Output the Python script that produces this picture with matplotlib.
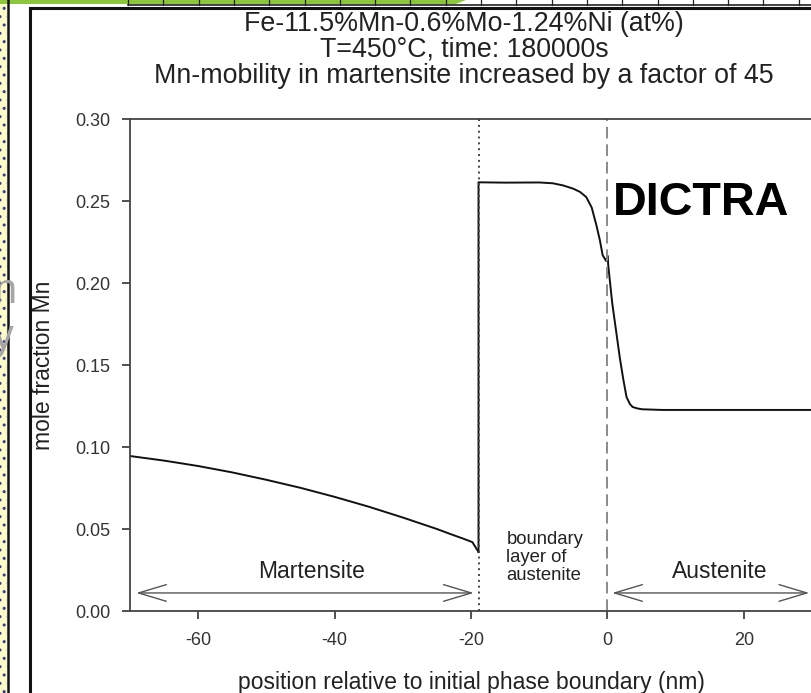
import numpy as np
import matplotlib.pyplot as plt
from matplotlib.patches import Rectangle, Polygon, FancyArrowPatch, ArrowStyle
from matplotlib.lines import Line2D

plt.rcParams['font.family'] = ['Liberation Sans', 'DejaVu Sans']
plt.rcParams['axes.unicode_minus'] = False

# Mn profile, martensite side (nm, mole fraction)
mart_x = [-70, -65, -60, -55, -50, -45, -40, -35, -30, -25, -23, -21, -19.8, -18.9]
mart_y = [0.0945, 0.0917, 0.0884, 0.0845, 0.0800, 0.0751, 0.0696, 0.0636, 0.0570,
          0.0500, 0.0469, 0.0439, 0.0420, 0.0360]

# Mn profile, austenite side
aus_x = [-18.9, -18.9, -15, -10, -8, -6.5, -5, -4, -3.1, -2.3, -1.6, -1.1, -0.7, -0.2,
         0.05, 0.12, 0.7, 1.3, 1.8, 2.3, 2.8, 3.3, 3.7, 4.4, 5.1, 8, 30]
aus_y = [0.0360, 0.2614, 0.2612, 0.2613, 0.2608, 0.2595, 0.2575, 0.2555, 0.2524, 0.2460,
         0.2350, 0.2260, 0.2170, 0.2135, 0.2165, 0.2110, 0.1880, 0.1700, 0.1550, 0.1420,
         0.1305, 0.1262, 0.1244, 0.1235, 0.1230, 0.1226, 0.1226]

interface_x = -18.9
boundary_x = 0

xticks = [-60, -40, -20, 0, 20]
yticks = [0.00, 0.05, 0.10, 0.15, 0.20, 0.25, 0.30]

title_lines = ["Fe-11.5%Mn-0.6%Mo-1.24%Ni (at%)",
               "T=450\u00b0C, time: 180000s",
               "Mn-mobility in martensite increased by a factor of 45"]

W, H = 811, 693
fig = plt.figure(figsize=(W / 100, H / 100), dpi=100)
fig.patch.set_facecolor('white')


def fx(px):
    return px / W


def fy(py):
    return 1 - py / H


# slide decorations around the pasted chart
fig.patches.append(Rectangle((0, 0), fx(7), 1, transform=fig.transFigure,
                             facecolor='#fdfbc9', edgecolor='#3a3a8a', hatch='..',
                             linewidth=0, zorder=0))
fig.add_artist(Line2D([fx(8), fx(8)], [0, 1], color='#111111', lw=1.8))
fig.add_artist(Line2D([fx(30), fx(30)], [0, fy(8)], color='#111111', lw=2.2))
fig.add_artist(Line2D([fx(30), 1], [fy(8), fy(8)], color='#111111', lw=2.2))
fig.patches.append(Polygon([[0, 1], [fx(466), 1], [fx(456), fy(4)], [0, fy(4)]],
                           closed=True, transform=fig.transFigure,
                           facecolor='#8cc63f', edgecolor='none', zorder=1))
fig.add_artist(Line2D([fx(128), 1], [fy(5), fy(5)], color='#222222', lw=1.2))
for cx in np.arange(128, 811, 35.3):
    fig.add_artist(Line2D([fx(cx), fx(cx)], [fy(5), 1], color='#222222', lw=0.9))
fig.text(fx(16), fy(292), 'n', ha='right', va='center', fontsize=30, color='#a6a6a6')
fig.text(fx(14), fy(338), 'y', ha='right', va='center', fontsize=30, color='#a6a6a6')

# chart
ax = fig.add_axes([fx(130), fy(611), (812 - 130) / W, (611 - 119) / H])
ax.plot(mart_x, mart_y, color='#111111', lw=1.4)
ax.plot(aus_x, aus_y, color='#111111', lw=1.4)
ax.plot([interface_x, interface_x], [0, 0.30], color='#444444', lw=1.4, ls=(0, (1, 2)))
ax.plot([boundary_x, boundary_x], [0, 0.30], color='#8a8a8a', lw=1.4, ls=(0, (6, 3)))

ax.set_xlim(-70, 30)
ax.set_ylim(0, 0.30)
ax.set_xticks(xticks)
ax.set_xticklabels([str(v) for v in xticks])
ax.set_yticks(yticks)
ax.set_yticklabels(['%.2f' % v for v in yticks])
ax.tick_params(axis='both', labelsize=13, colors='#333333', length=6, width=1.2)
ax.tick_params(axis='x', pad=9)
ax.tick_params(axis='y', pad=8)
for side in ['left', 'bottom', 'top']:
    ax.spines[side].set_color('#444444')
    ax.spines[side].set_linewidth(1.3)
ax.spines['right'].set_visible(False)

ax.set_xlabel('position relative to initial phase boundary (nm)', fontsize=16.5, color='#222222')
ax.set_ylabel('mole fraction Mn', fontsize=16.5, color='#222222')
ax.xaxis.set_label_coords(0.5, -0.122)
ax.yaxis.set_label_coords(-0.11, 0.5)

for i, line in enumerate(title_lines):
    fig.text(fx(464), fy(31 + 26 * i), line, ha='center', va='baseline',
             fontsize=19.3, color='#222222')

arrow_style = ArrowStyle('<->', head_length=1.0, head_width=0.3)
ax.add_patch(FancyArrowPatch((-69.1, 0.011), (-19.6, 0.011), arrowstyle=arrow_style,
                             mutation_scale=20, color='#555555', lw=1.0, shrinkA=0, shrinkB=0))
ax.add_patch(FancyArrowPatch((0.7, 0.011), (29.6, 0.011), arrowstyle=arrow_style,
                             mutation_scale=20, color='#555555', lw=1.0, shrinkA=0, shrinkB=0))
ax.text(-43.4, 0.0238, 'Martensite', ha='center', va='center', fontsize=16.5, color='#222222')
ax.text(16.4, 0.0238, 'Austenite', ha='center', va='center', fontsize=16.5, color='#222222')
ax.text(-14.8, 0.0329, 'boundary\nlayer of\naustenite', ha='left', va='center',
        fontsize=13.3, color='#222222', linespacing=1.08)

fig.text(fx(613), fy(215), 'DICTRA', ha='left', va='baseline', fontsize=33.7,
         fontweight='bold', color='black')

fig.savefig('out.png', dpi=100)
